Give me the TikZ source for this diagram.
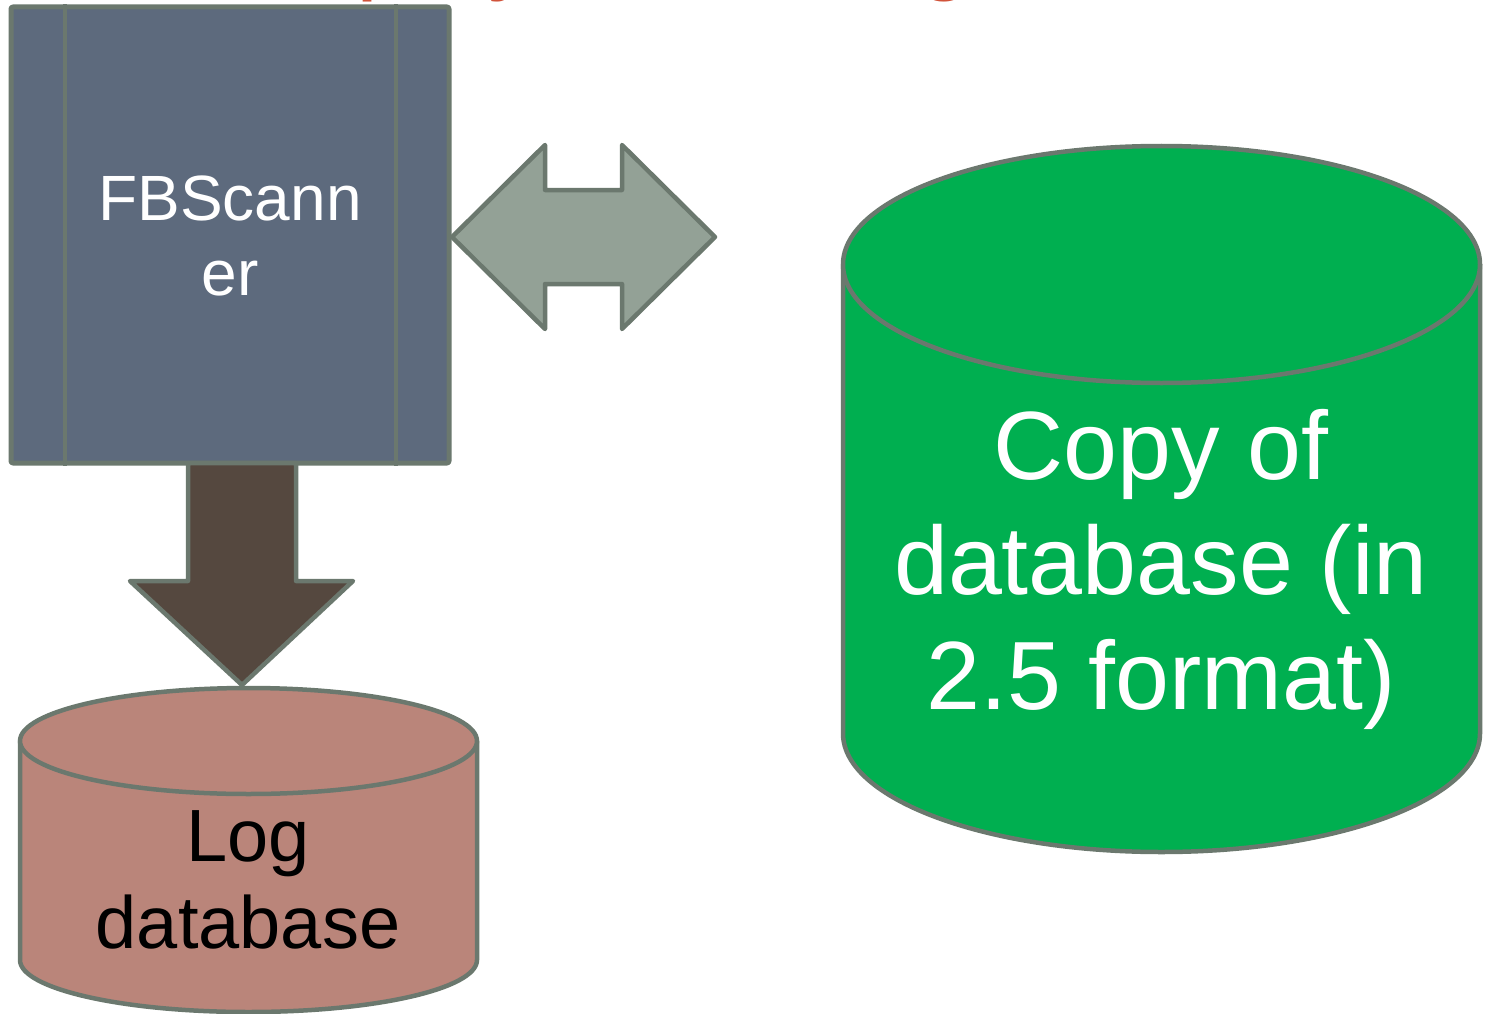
\documentclass[tikz,border=0pt]{standalone}
\usepackage{fontspec}
\setmainfont{Liberation Sans}
\definecolor{edgegray}{HTML}{6B786E}
\definecolor{scannerfill}{HTML}{5D6A7D}
\definecolor{linkfill}{HTML}{93A196}
\definecolor{flowfill}{HTML}{55483F}
\definecolor{logfill}{HTML}{BA857A}
\definecolor{copyfill}{HTML}{00AF50}
\definecolor{titlered}{HTML}{D1533A}
\tikzset{
  outline/.style={draw=edgegray, line width=4.5pt, line join=round},
  scannerbox/.style={outline, line width=5pt, rectangle, rounded corners=2pt,
    fill=scannerfill, minimum width=438pt, minimum height=456pt, inner sep=0pt},
  label/.style={inner sep=0pt, align=center},
}
\begin{document}
\begin{tikzpicture}[x=1pt,y=1pt]
\clip (0,0) rectangle (1486,-1014);
\fill[white] (0,0) rectangle (1486,-1014);

% slide title, mostly above the visible area
\node[anchor=base west, inner sep=0pt, text=titlered,
      font=\fontsize{99}{110}\selectfont] (title) at (230,18) {Deployment diagram};

% log database cylinder
\coordinate (logtop) at (248.5,-741);
\coordinate (logbot) at (248.5,-960);
\path[outline, fill=logfill] (20,-741) -- (20,-960)
  arc[start angle=180, end angle=360, x radius=228.5, y radius=52] -- (477,-741) -- cycle;
\path[outline, fill=logfill] (logtop) ellipse [x radius=228.5, y radius=53];
\node[label, font=\fontsize{74}{87}\selectfont] (logtxt) at (248,-880) {Log\\database};

% copy database cylinder
\coordinate (cptop) at (1161.5,-264.5);
\coordinate (cpbot) at (1161.5,-733.5);
\path[outline, fill=copyfill] (843,-264.5) -- (843,-733.5)
  arc[start angle=180, end angle=360, x radius=318.5, y radius=118.5] -- (1480,-264.5) -- cycle;
\path[outline, fill=copyfill] (cptop) ellipse [x radius=318.5, y radius=118.5];
\node[label, text=white, font=\fontsize{97}{115}\selectfont] (cptxt) at (1161,-569.5)
  {Copy of\\database (in\\2.5 format)};

% scanner box with side bars
\node[scannerbox] (scanner) at (230,-235) {};
\draw[draw=edgegray, line width=4pt] ([xshift=56pt]scanner.north west) -- ([xshift=56pt]scanner.south west);
\draw[draw=edgegray, line width=4pt] ([xshift=-56pt]scanner.north east) -- ([xshift=-56pt]scanner.south east);
\node[label, text=white, font=\fontsize{64}{75}\selectfont] (scantxt) at (230,-235.5) {FBScann\\er};

% block arrow from scanner down to the log database
\path[outline, fill=flowfill] (188,-463) -- (296,-463) -- (296,-581) -- (353,-581)
  -- (242,-685) -- (130,-581) -- (188,-581) -- cycle;

% two-way block arrow between scanner and copy
\path[outline, fill=linkfill] (452,-237) -- (545,-145) -- (545,-190) -- (622,-190)
  -- (622,-145) -- (715,-237) -- (622,-329) -- (622,-284) -- (545,-284)
  -- (545,-329) -- cycle;
\end{tikzpicture}
\end{document}
